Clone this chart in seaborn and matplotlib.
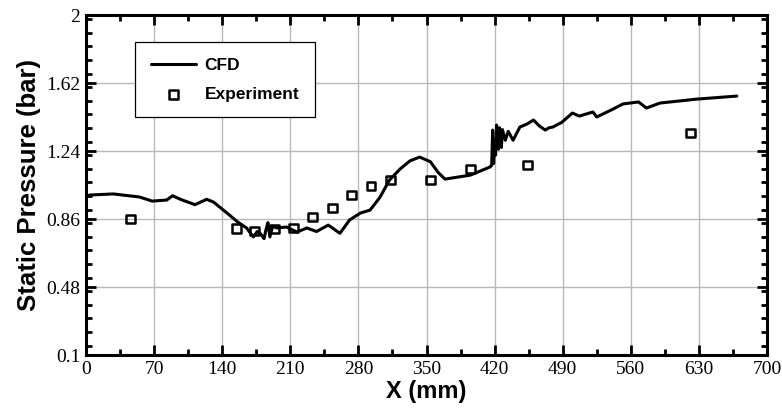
import numpy as np
import pandas as pd
import matplotlib
matplotlib.use("Agg")
import matplotlib.pyplot as plt
import seaborn as sns
from matplotlib.ticker import MultipleLocator, FixedLocator

# ---- data ----
cfd_x = [0, 4, 28, 55, 68, 83, 89, 97, 112, 124, 131, 145, 156, 165, 172, 176, 179, 183,
         185, 187, 189, 192, 196, 206, 217, 227, 237, 249, 261, 271, 282, 292, 302, 312,
         323, 333, 343, 354, 362, 369, 395, 415, 417, 418, 419, 420, 421, 422, 424, 425,
         427, 428, 431, 434, 439, 446, 453, 460, 466, 472, 476, 480, 489, 500, 507, 521,
         525, 542, 552, 568, 576, 590, 628, 669]
cfd_y = [0.985, 0.994, 1.0, 0.983, 0.96, 0.966, 0.99, 0.97, 0.94, 0.97, 0.955, 0.893,
         0.843, 0.81, 0.76, 0.79, 0.78, 0.75, 0.80, 0.84, 0.76, 0.82, 0.81, 0.815, 0.787,
         0.81, 0.79, 0.826, 0.78, 0.855, 0.893, 0.91, 0.98, 1.078, 1.14, 1.185, 1.206,
         1.18, 1.12, 1.083, 1.105, 1.15, 1.16, 1.357, 1.17, 1.30, 1.217, 1.385, 1.25, 1.37,
         1.26, 1.36, 1.30, 1.35, 1.30, 1.374, 1.39, 1.413, 1.38, 1.357, 1.37, 1.374, 1.40,
         1.452, 1.435, 1.458, 1.43, 1.475, 1.503, 1.514, 1.48, 1.508, 1.53, 1.547]

exp_x = [46, 155, 173, 194, 213, 233, 253, 273, 293, 313, 354, 395, 454, 621]
exp_y = [0.86, 0.809, 0.793, 0.804, 0.81, 0.871, 0.921, 0.994, 1.044, 1.078, 1.078,
         1.139, 1.162, 1.34]

x_ticks = [0, 70, 140, 210, 280, 350, 420, 490, 560, 630, 700]
y_ticks = [0.1, 0.48, 0.86, 1.24, 1.62, 2.0]
y_tick_labels = ["0.1", "0.48", "0.86", "1.24", "1.62", "2"]

cfd = pd.DataFrame({"x": cfd_x, "y": cfd_y})
exp = pd.DataFrame({"x": exp_x, "y": exp_y})

sns.set_style("white")
plt.rcParams.update({"text.color": "black", "axes.labelcolor": "black",
                     "xtick.color": "black", "ytick.color": "black"})

fig = plt.figure(figsize=(7.82, 4.16), dpi=100)
ax = fig.add_axes([86 / 782, 1 - 355 / 416, 681 / 782, 340 / 416])

ax.grid(True, which="major", color="#b8b8b8", linewidth=1.0, zorder=0)
ax.set_axisbelow(True)

sns.lineplot(data=cfd, x="x", y="y", ax=ax, color="black", linewidth=2.2,
             sort=False, estimator=None, label="CFD", zorder=3)
sns.scatterplot(data=exp, x="x", y="y", ax=ax, marker="s", s=40,
                facecolor="none", edgecolor="black", linewidth=1.8,
                label="Experiment", zorder=4)

ax.set_xlim(0, 700)
ax.set_ylim(0.1, 2.0)
ax.xaxis.set_major_locator(FixedLocator(x_ticks))
ax.xaxis.set_minor_locator(MultipleLocator(35))
ax.yaxis.set_major_locator(FixedLocator(y_ticks))
ax.yaxis.set_minor_locator(MultipleLocator(0.076))
ax.set_yticklabels(y_tick_labels)
ax.set_xticklabels([str(t) for t in x_ticks])

ax.tick_params(which="both", direction="in", top=True, right=True,
               bottom=True, left=True, width=2, color="black", labelcolor="black")
ax.tick_params(which="major", length=7, labelsize=14, pad=4)
ax.tick_params(which="minor", length=4)
for lab in ax.get_xticklabels() + ax.get_yticklabels():
    lab.set_fontfamily("Liberation Serif")

for sp in ax.spines.values():
    sp.set_linewidth(2.2)
    sp.set_color("black")

ax.set_xlabel("X (mm)", fontsize=17, fontweight="bold", color="black",
              fontfamily="Liberation Sans", labelpad=2)
ax.set_ylabel("Static Pressure (bar)", fontsize=18.5, fontweight="bold", color="black",
              fontfamily="Liberation Sans", labelpad=4)

leg = ax.legend(loc="upper left", bbox_to_anchor=((135 - 86) / 681, (355 - 42) / 340),
                frameon=True, fancybox=False, edgecolor="black", framealpha=1,
                prop={"family": "Liberation Sans", "weight": "bold", "size": 12.5},
                handlelength=2.6, borderpad=0.9, labelspacing=0.8, handletextpad=0.5,
                borderaxespad=0)
leg.get_frame().set_linewidth(0.9)
for t in leg.get_texts():
    t.set_color("black")

fig.savefig("out.png", dpi=100)
